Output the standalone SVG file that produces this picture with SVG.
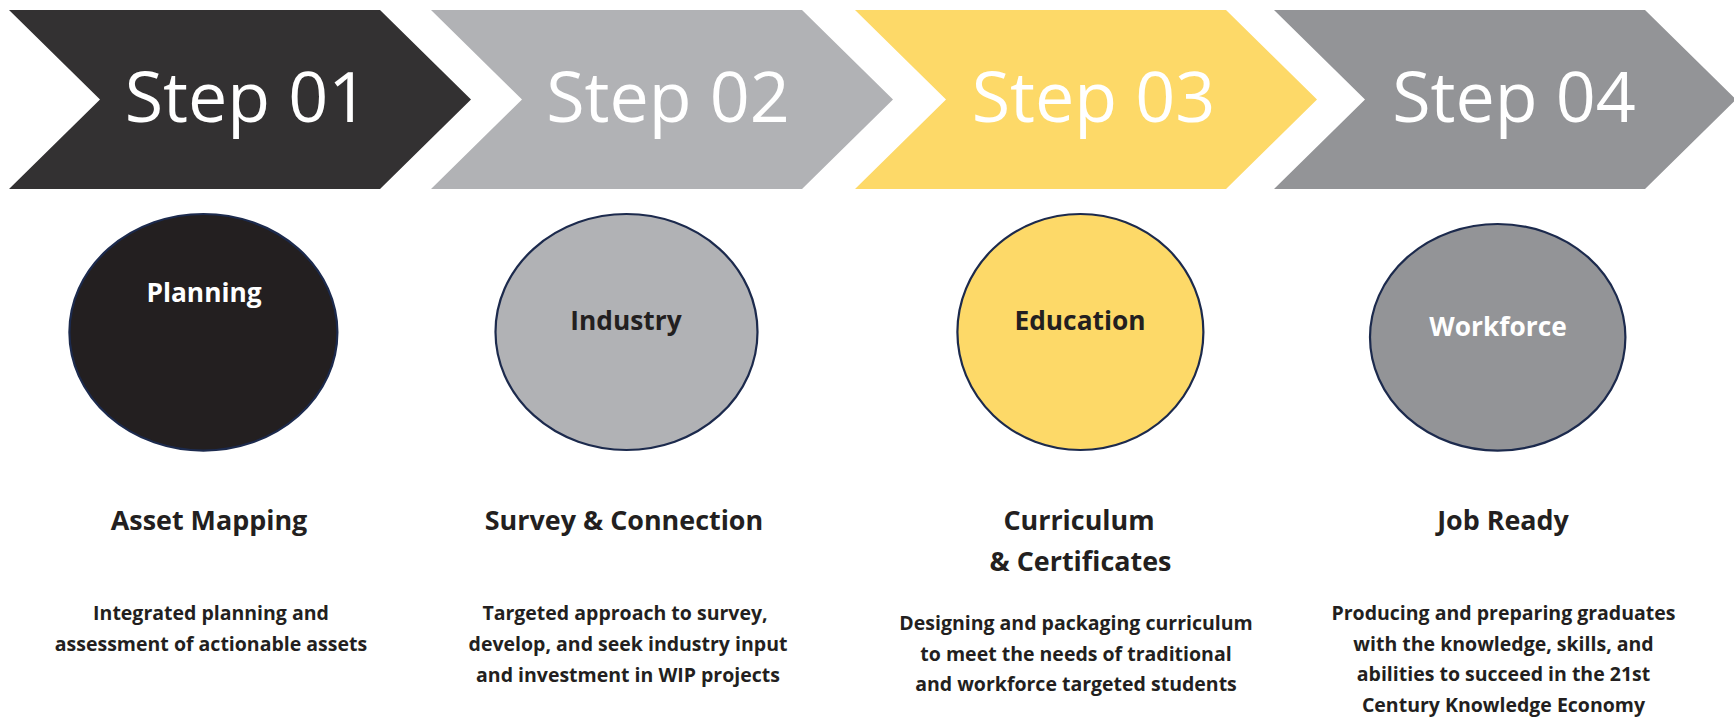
<svg xmlns="http://www.w3.org/2000/svg" width="1734" height="717" viewBox="0 0 1734 717">
<style>
.step{font-family:"Open Sans","Noto Sans",sans-serif;font-size:70px;fill:#ffffff;text-anchor:middle}
.lbl{font-family:"Open Sans","Noto Sans",sans-serif;font-size:26.3px;font-weight:700;text-anchor:middle}
.head{font-family:"Open Sans","Noto Sans",sans-serif;font-size:26.9px;font-weight:700;fill:#231f20;text-anchor:middle}
.desc{font-family:"Open Sans","Noto Sans",sans-serif;font-size:19.5px;font-weight:700;fill:#231f20;text-anchor:middle}
.ell{stroke:#1c2a4d;stroke-width:2.2}
</style>
<rect width="1734" height="717" fill="#ffffff"/>
<g id="connectors"></g>
<g id="step1">
<polygon points="9,10 380,10 471,99.5 380,189 9,189 100,99.5" fill="#333132"/>
<text class="step" x="246.5" y="122">Step 01</text>
</g>
<g id="step2">
<polygon points="431,10 802,10 893,99.5 802,189 431,189 522,99.5" fill="#b1b2b5"/>
<text class="step" x="668" y="122">Step 02</text>
</g>
<g id="step3">
<polygon points="855,10 1226,10 1317,99.5 1226,189 855,189 946,99.5" fill="#fdd968"/>
<text class="step" x="1093.5" y="122">Step 03</text>
</g>
<g id="step4">
<polygon points="1274,10 1645,10 1736,99.5 1645,189 1274,189 1365,99.5" fill="#939497"/>
<text class="step" x="1514" y="122">Step 04</text>
</g>
<g id="planning">
<ellipse class="ell" cx="203.4" cy="332.3" rx="134" ry="118.3" fill="#231f20"/>
<text class="lbl" x="204" y="302" fill="#ffffff">Planning</text>
</g>
<g id="industry">
<ellipse class="ell" cx="626.5" cy="332" rx="131" ry="118" fill="#b1b2b5"/>
<text class="lbl" x="626" y="330" fill="#231f20">Industry</text>
</g>
<g id="education">
<ellipse class="ell" cx="1080.4" cy="332" rx="123" ry="118" fill="#fdd968"/>
<text class="lbl" x="1080" y="330" fill="#231f20">Education</text>
</g>
<g id="workforce">
<ellipse class="ell" cx="1497.7" cy="337.3" rx="127.7" ry="113.3" fill="#939497"/>
<text class="lbl" x="1498" y="336" fill="#ffffff">Workforce</text>
</g>
<g id="col1">
<text class="head" x="209" y="530">Asset Mapping</text>
<text class="desc" x="211" y="620">Integrated planning and</text>
<text class="desc" x="211" y="650.7">assessment of actionable assets</text>
</g>
<g id="col2">
<text class="head" x="624" y="530">Survey &amp; Connection</text>
<text class="desc" x="625" y="620">Targeted approach to survey,</text>
<text class="desc" x="628" y="650.7">develop, and seek industry input</text>
<text class="desc" x="628" y="681.5">and investment in WIP projects</text>
</g>
<g id="col3">
<text class="head" x="1079" y="530">Curriculum</text>
<text class="head" x="1080.5" y="571">&amp; Certificates</text>
<text class="desc" x="1076" y="630">Designing and packaging curriculum</text>
<text class="desc" x="1076" y="660.5">to meet the needs of traditional</text>
<text class="desc" x="1076" y="691">and workforce targeted students</text>
</g>
<g id="col4">
<text class="head" x="1503" y="530">Job Ready</text>
<text class="desc" x="1503.5" y="620">Producing and preparing graduates</text>
<text class="desc" x="1503.5" y="650.5">with the knowledge, skills, and</text>
<text class="desc" x="1503.5" y="681">abilities to succeed in the 21st</text>
<text class="desc" x="1503.5" y="711.5">Century Knowledge Economy</text>
</g>
</svg>
